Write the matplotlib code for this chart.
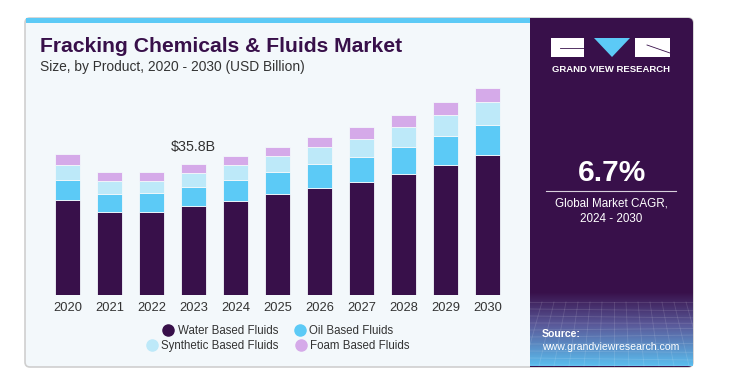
import numpy as np
import matplotlib
matplotlib.use("Agg")
import matplotlib.pyplot as plt
from matplotlib.patches import FancyBboxPatch, Rectangle, Polygon
from matplotlib.lines import Line2D

plt.rcParams["font.family"] = ["Liberation Sans", "DejaVu Sans"]

# data (USD Billion)
years = ["2020", "2021", "2022", "2023", "2024", "2025", "2026", "2027", "2028", "2029", "2030"]
water = [26.0, 22.7, 22.7, 24.3, 25.7, 27.6, 29.2, 30.9, 33.1, 35.5, 38.3]
oil = [5.5, 4.9, 5.2, 5.2, 5.7, 6.0, 6.6, 6.8, 7.4, 7.9, 8.2]
synthetic = [4.1, 3.6, 3.4, 3.8, 4.1, 4.4, 4.6, 4.9, 5.5, 5.7, 6.3]
foam = [3.0, 2.5, 2.3, 2.5, 2.5, 2.5, 2.7, 3.3, 3.3, 3.6, 3.8]
series_names = ["Water Based Fluids", "Oil Based Fluids", "Synthetic Based Fluids", "Foam Based Fluids"]
colors = ["#38104a", "#5ccaf6", "#bde9f9", "#d5aae9"]
highlight_idx = 3
highlight_label = "$35.8B"

W, H = 736, 375
fig = plt.figure(figsize=(W / 100, H / 100), dpi=100)
fig.patch.set_facecolor("white")


def fx(x):
    return x / W


def fy(y):
    return 1 - y / H


# background card
bg = fig.add_axes([0, 0, 1, 1])
bg.set_xlim(0, W)
bg.set_ylim(H, 0)
bg.axis("off")
bg.add_patch(FancyBboxPatch((25, 18), 668, 349, boxstyle="round,pad=0,rounding_size=5",
                            fc="#f3f8fb", ec="#cfcfcf", lw=1.2))
bg.add_patch(Rectangle((26, 18), 504, 5, fc="#5ccaf6", ec="none"))
bg.add_patch(FancyBboxPatch((530, 18), 163, 349, boxstyle="round,pad=0,rounding_size=5",
                            fc="#38104a", ec="none"))
bg.add_patch(Rectangle((530, 18), 10, 349, fc="#38104a", ec="none"))

# gradient at the bottom of the right panel
grad = np.linspace(0, 1, 100)[:, None]
top_c = np.array([0x38, 0x10, 0x4a]) / 255
mid_c = np.array([0x5a, 0x5a, 0x9a]) / 255
bot_c = np.array([0x5a, 0xbd, 0xee]) / 255
t = grad[..., None]
img = np.where(t < 0.45,
               top_c * (1 - t / 0.45) + mid_c * (t / 0.45),
               mid_c * (1 - (t - 0.45) / 0.55) + bot_c * ((t - 0.45) / 0.55))
img = np.repeat(img, 2, axis=1)
bg.imshow(img, extent=(530, 693, 366, 292), aspect="auto", zorder=2)
# faint mesh
for k in range(15):
    xs = 530 + k * 12
    bg.plot([xs, xs + (k - 7) * 3], [302, 366], color="white", alpha=0.13, lw=0.6, zorder=3)
for k in range(10):
    yy = 302 + k * 7
    bg.plot([530, 693], [yy, yy + np.sin(k) * 2], color="white", alpha=0.13, lw=0.6, zorder=3)

# logo
bg.add_patch(Rectangle((551, 38), 33, 19, fc="white", ec="none", zorder=4))
bg.add_patch(Polygon([(594, 38), (630, 38), (612, 57)], fc="#5ccaf6", ec="none", zorder=4))
bg.add_patch(Rectangle((635, 38), 35, 19, fc="white", ec="none", zorder=4))
bg.plot([560, 584], [48, 48], color="#38104a", lw=0.6, zorder=5)
bg.plot([647, 670], [45, 53], color="#38104a", lw=0.6, zorder=5)
bg.text(611, 69, "GRAND VIEW RESEARCH", color="white", fontsize=6.8, fontweight="bold",
        ha="center", va="center", zorder=5)

# right panel texts
bg.text(612, 173, "6.7%", color="white", fontsize=21.5, fontweight="bold", ha="center", va="center", zorder=5)
bg.plot([546, 676], [191, 191], color="#d8d0dc", lw=0.8, zorder=5)
bg.text(611, 204, "Global Market CAGR,", color="white", fontsize=8.4, ha="center", va="center", zorder=5)
bg.text(611, 219, "2024 - 2030", color="white", fontsize=8.4, ha="center", va="center", zorder=5)
bg.text(542, 334, "Source:", color="white", fontsize=7.6, fontweight="bold", ha="left", va="center", zorder=5)
bg.text(542, 347, "www.grandviewresearch.com", color="white", fontsize=7.6, ha="left", va="center", zorder=5)

# titles
bg.text(40, 47, "Fracking Chemicals & Fluids Market", color="#38104a", fontsize=15.2,
        fontweight="bold", ha="left", va="center")
bg.text(40, 67, "Size, by Product, 2020 - 2030 (USD Billion)", color="#333333", fontsize=9.9,
        ha="left", va="center")

# bar chart
ax = fig.add_axes([fx(40), fy(295), fx(515 - 40), (295 - 80) / H])
ax.set_facecolor("none")
x = np.arange(len(years))
bottom = np.zeros(len(years))
for vals, c, name in zip([water, oil, synthetic, foam], colors, series_names):
    ax.bar(x, vals, 0.6, bottom=bottom, color=c, edgecolor="#f3f8fb", linewidth=0.6, label=name)
    bottom += np.array(vals)
ax.set_xlim(-0.65, 10.65)
ax.set_ylim(0, 58.8)
ax.set_xticks(x)
ax.set_xticklabels(years, fontsize=9.3, color="#333333")
ax.tick_params(axis="x", length=0, pad=5)
ax.set_yticks([])
for s in ax.spines.values():
    s.set_visible(False)
ax.text(x[highlight_idx], bottom[highlight_idx] + 4.7, highlight_label, ha="center", va="center",
        fontsize=10.3, color="#333333")


# legend, two centred rows
def handle(c):
    return Line2D([], [], marker="o", linestyle="none", markersize=8, markerfacecolor=c, markeredgecolor=c)


for names, cols, ypix in [(series_names[:2], colors[:2], 331), (series_names[2:], colors[2:], 346)]:
    leg = fig.legend([handle(c) for c in cols], names, loc="center",
                     bbox_to_anchor=(fx(278), fy(ypix)), ncol=2, frameon=False, fontsize=8.3,
                     handletextpad=0.3, columnspacing=1.4, handlelength=1.0,
                     borderpad=0, borderaxespad=0)
    for txt in leg.get_texts():
        txt.set_color("#333333")

fig.savefig("out.png", dpi=100, facecolor="white")
